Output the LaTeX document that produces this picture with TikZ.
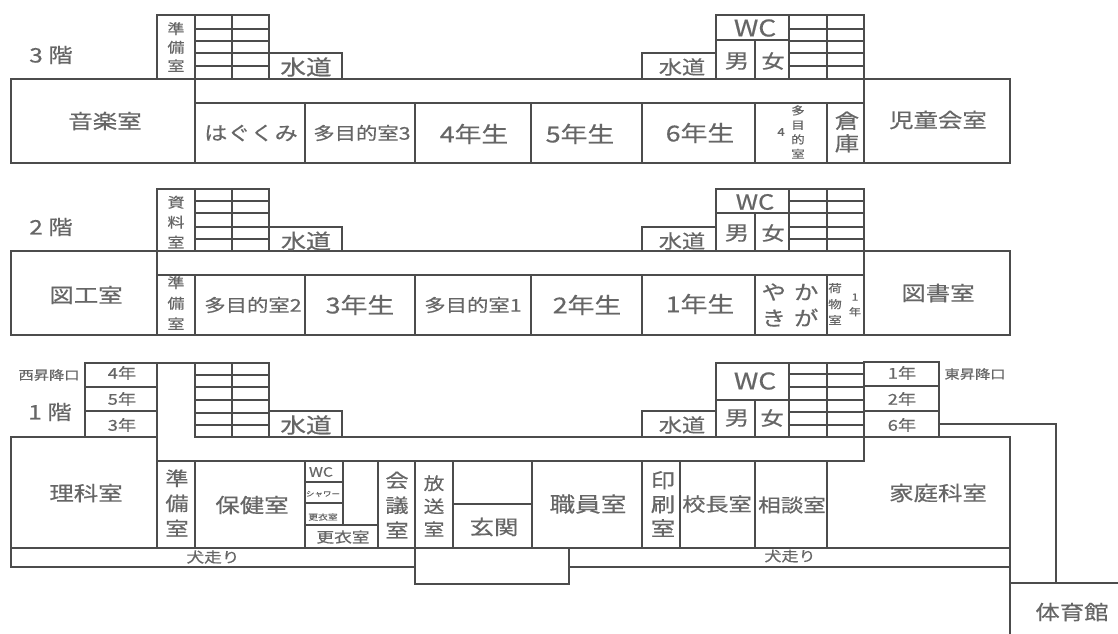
\documentclass[tikz,border=0pt]{standalone}
\usepackage{fontspec}
\newfontfamily\jp[FakeStretch=1.22,FakeBold=0.5]{Noto Sans CJK JP}
\definecolor{wall}{gray}{0.30}
\definecolor{ink}{gray}{0.40}
\tikzset{
  wl/.style={draw=wall,line width=2.4pt,line cap=rect},
  lbl/.style 2 args={font=\jp\fontsize{#1}{#2}\selectfont,text=ink,inner sep=0pt,align=center}
}
\newcommand{\stairs}[6]{%
  \draw[wl] (#1,#4) rectangle (#3,#5);
  \draw[wl] (#2,#4) -- (#2,#5);
  \foreach \yy in {#6} \draw[wl] (#1,\yy) -- (#3,\yy);
}
\begin{document}
\begin{tikzpicture}[x=1pt,y=-1pt]
\useasboundingbox[fill=white] (0,0) rectangle (1118,633);
% ---------- 3F walls
\draw[wl] (11,79) rectangle (1010,163);
\draw[wl] (157,79) -- (157,15) -- (195,15) (195,15) -- (195,163);
\stairs{195}{232}{269}{15}{79}{29,41,53,66}
\stairs{789}{827}{864}{15}{79}{29,41,53,66}
\draw[wl] (269,53) -- (342,53) -- (342,79);
\draw[wl] (642,79) -- (642,53) -- (716,53);
\draw[wl] (716,79) -- (716,15) -- (789,15) (716,40) -- (789,40) (755,40) -- (755,79);
\draw[wl] (195,103) -- (864,103) (864,79) -- (864,163);
\foreach \xx in {305,415,531,642,755,827} \draw[wl] (\xx,103) -- (\xx,163);
% ---------- 2F walls
\draw[wl] (11,251) rectangle (1010,335);
\draw[wl] (157,189) -- (157,335) (157,189) -- (195,189);
\stairs{195}{232}{269}{189}{251}{201,213,227,239}
\stairs{789}{827}{864}{189}{251}{201,213,227,239}
\draw[wl] (269,227) -- (342,227) -- (342,251);
\draw[wl] (642,251) -- (642,227) -- (716,227);
\draw[wl] (716,251) -- (716,189) -- (789,189) (716,213) -- (789,213) (755,213) -- (755,251);
\draw[wl] (157,275) -- (864,275) (864,251) -- (864,335);
\foreach \xx in {195,305,415,531,642,755,827} \draw[wl] (\xx,275) -- (\xx,335);
% ---------- 1F walls
\draw[wl] (85,437) -- (85,363) -- (195,363);
\draw[wl] (85,387) -- (157,387) (85,411) -- (157,411);
\draw[wl] (11,437) -- (157,437);
\draw[wl] (157,363) -- (157,548);
\draw[wl] (11,437) -- (11,567) -- (415,567);
\draw[wl] (11,548) -- (1010,548);
\stairs{195}{232}{269}{363}{437}{375,387,400,413,425}
\stairs{789}{827}{864}{363}{437}{374,387,400,412,425}
\draw[wl] (269,411) -- (342,411) -- (342,437);
\draw[wl] (642,437) -- (642,411) -- (716,411);
\draw[wl] (716,437) -- (716,363) -- (789,363) (716,400) -- (789,400) (755,400) -- (755,437);
\draw[wl] (195,437) -- (1010,437);
\draw[wl] (157,461) -- (864,461) (864,437) -- (864,461);
\foreach \xx in {195,305,378,415,453,532,642,680,755,827} \draw[wl] (\xx,461) -- (\xx,548);
\draw[wl] (305,482) -- (343,482) (305,503) -- (343,503) (343,461) -- (343,525) (305,525) -- (378,525);
\draw[wl] (453,504) -- (532,504);
\draw[wl] (415,548) -- (415,584) -- (569,584) -- (569,548);
\draw[wl] (569,567) -- (1010,567);
\draw[wl] (864,362) -- (939,362) -- (939,437);
\draw[wl] (864,386) -- (939,386) (864,411) -- (939,411);
\draw[wl] (1010,437) -- (1010,633);
\draw[wl] (939,424) -- (1056,424) -- (1056,583);
\draw[wl] (1010,583) -- (1118,583);
% ---------- 3F labels
\node[lbl={20}{24}] (f3) at (51,55) {3 階};
\node[lbl={14}{18.5}] (f3prep) at (176,47) {準\\備\\室};
\node[lbl={20}{24}] (music) at (105,121) {音楽室};
\node[lbl={21}{24}] (w3l) at (306,67) {水道};
\node[lbl={19}{24}] (w3r) at (682,67) {水道};
\node[lbl={23}{24}] (wc3) at (755,28) {WC};
\node[lbl={20}{24}] (m3) at (737,61) {男};
\node[lbl={19}{24}] (g3) at (773,61) {女};
\node[lbl={19}{24}] (hagu) at (251,133) {はぐくみ};
\node[lbl={17.5}{24}] (ta3) at (362,133) {多目的室3};
\node[lbl={22}{24}] (y4) at (474,134) {4年生};
\node[lbl={22}{24}] (y5) at (580,134) {5年生};
\node[lbl={22}{24}] (y6) at (700,133) {6年生};
\node[lbl={11}{12}] (ta4n) at (781,132) {4};
\node[lbl={11}{14.5}] (ta4) at (798,132) {多\\目\\的\\室};
\node[lbl={20}{22.5}] (sou) at (847,132) {倉\\庫};
\node[lbl={20}{24}] (jido) at (938,120) {児童会室};
% ---------- 2F labels
\node[lbl={20}{24}] (f2) at (51,227) {2 階};
\node[lbl={14}{20}] (shiryo) at (176,222) {資\\料\\室};
\node[lbl={14}{20.5}] (f2prep) at (176,303) {準\\備\\室};
\node[lbl={20}{24}] (zuko) at (86,295) {図工室};
\node[lbl={20.5}{24}] (w2l) at (306,241) {水道};
\node[lbl={19}{24}] (w2r) at (682,241) {水道};
\node[lbl={21}{24}] (wc2) at (755,202) {WC};
\node[lbl={20}{24}] (m2) at (737,233) {男};
\node[lbl={19}{24}] (g2) at (773,233) {女};
\node[lbl={17.5}{24}] (ta2) at (253,305) {多目的室2};
\node[lbl={22}{24}] (y3) at (360,305) {3年生};
\node[lbl={17.5}{24}] (ta1) at (473,305) {多目的室1};
\node[lbl={22}{24}] (y2) at (587,305) {2年生};
\node[lbl={22}{24}] (y1) at (700,304) {1年生};
\node[lbl={20}{26}] (yaka) at (790,305) {や\hspace{8pt}か\\き\hspace{8pt}が};
\node[lbl={11}{16}] (nimotsu) at (835,304) {荷\\物\\室};
\node[lbl={10}{15}] (ichi) at (855,305) {1\\年};
\node[lbl={20}{24}] (tosho) at (938,293) {図書室};
% ---------- 1F labels
\node[lbl={20}{24}] (f1) at (50,412) {1 階};
\node[lbl={12.5}{15}] (west) at (49,375) {西昇降口};
\node[lbl={15}{18}] (g4) at (122,373) {4年};
\node[lbl={15}{18}] (g5) at (122,399) {5年};
\node[lbl={15}{18}] (g3b) at (122,425) {3年};
\node[lbl={21}{24}] (w1l) at (306,425) {水道};
\node[lbl={19}{24}] (w1r) at (682,425) {水道};
\node[lbl={23}{24}] (wc1) at (755,381) {WC};
\node[lbl={20}{24}] (m1) at (737,418) {男};
\node[lbl={19}{24}] (g1) at (772,418) {女};
\node[lbl={15}{18}] (g1b) at (902,373) {1年};
\node[lbl={15}{18}] (g2b) at (902,399) {2年};
\node[lbl={15}{18}] (g6b) at (902,425) {6年};
\node[lbl={12.5}{15}] (east) at (975,374) {東昇降口};
\node[lbl={20}{24}] (rika) at (86,493) {理科室};
\node[lbl={19}{25}] (f1prep) at (177,503) {準\\備\\室};
\node[lbl={20}{24}] (hoken) at (252,505) {保健室};
\node[lbl={13}{15}] (wcs) at (321,472) {WC};
\node[lbl={7}{9}] (shower) at (323,494) {シャワー};
\node[lbl={8}{10}] (kou1) at (323,517) {更衣室};
\node[lbl={14.5}{18}] (kou2) at (343,537) {更衣室};
\node[lbl={19}{25}] (kaigi) at (397,505) {会\\議\\室};
\node[lbl={17}{23}] (hoso) at (434,506) {放\\送\\室};
\node[lbl={20}{24}] (genkan) at (494,527) {玄関};
\node[lbl={21}{24}] (shoku) at (588,504) {職員室};
\node[lbl={20}{24}] (insatsu) at (663,504) {印\\刷\\室};
\node[lbl={19}{24}] (kocho) at (717,504) {校長室};
\node[lbl={18.5}{24}] (sodan) at (792,505) {相談室};
\node[lbl={20}{24}] (katei) at (938,493) {家庭科室};
\node[lbl={14.5}{18}] (inu1) at (213,557) {犬走り};
\node[lbl={14}{18}] (inu2) at (790,556) {犬走り};
\node[lbl={20}{24}] (gym) at (1072,612) {体育館};
\end{tikzpicture}
\end{document}
